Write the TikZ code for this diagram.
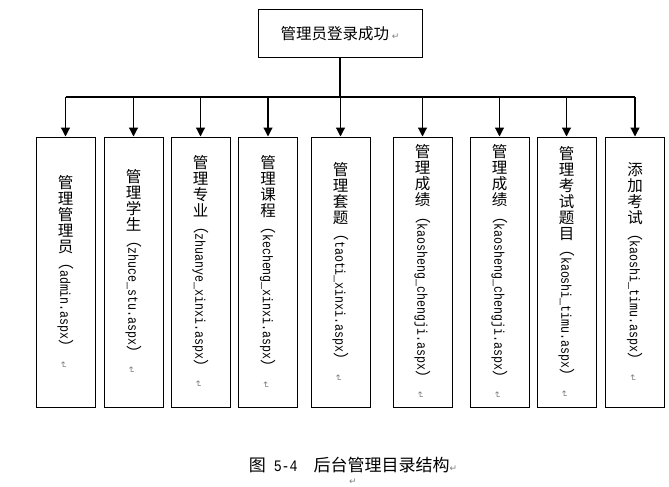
\documentclass[tikz,border=0pt]{standalone}
\usepackage{fontspec}
\usepackage{graphicx}
\usetikzlibrary{arrows.meta}
\newfontfamily\cjk{Noto Sans CJK SC}
\newfontfamily\lat[FakeStretch=0.83]{Liberation Mono}
\newfontfamily\sym{DejaVu Sans}
\newcommand\retmark{{\sym\fontsize{9}{9}\selectfont\color{gray}↵}}
\newcommand\vlab[2]{\vbox{\baselineskip=16pt\lineskiplimit=-100pt\lineskip=0pt
  \foreach \ch in {#1}{\hbox to 16pt{\hss\ch\hss}}
  \nointerlineskip\vskip 1pt
  \hbox to 16pt{\hss\rotatebox{-90}{{\cjk （}{\lat\fontsize{14}{14}\selectfont #2}{\cjk ）}\hspace{6pt}\retmark}\hss}}}
\tikzset{
  topbox/.style={draw, line width=1pt, minimum width=164pt, minimum height=48pt, inner sep=0pt,
    font=\fontsize{15.5}{16}\selectfont\cjk},
  leaf/.style={draw, line width=1pt, minimum width=59pt, minimum height=270pt, inner sep=0pt,
    font=\fontsize{15.5}{16}\selectfont\cjk},
  stemline/.style={line width=2.2pt},
  busline/.style={line width=1.2pt},
  arr/.style={line width=1.2pt, -{Triangle[length=9pt,width=9pt]}},
  captext/.style={font=\fontsize{17}{17}\selectfont\cjk}
}
\begin{document}
\begin{tikzpicture}[x=1pt,y=-1pt]
\useasboundingbox[fill=white] (0,0) rectangle (669,487);
\node[topbox] (top) at (340,34) {管理员登录成功\,\retmark};
\coordinate (bus) at (340,97);
\node[leaf] (b1) at (65.5,272) {\vlab{管,理,管,理,员}{admin.aspx}};
\node[leaf] (b2) at (133.5,272) {\vlab{管,理,学,生}{zhuce\_stu.aspx}};
\node[leaf] (b3) at (200.5,272) {\vlab{管,理,专,业}{zhuanye\_xinxi.aspx}};
\node[leaf] (b4) at (268,272) {\vlab{管,理,课,程}{kecheng\_xinxi.aspx}};
\node[leaf] (b5) at (340.5,272) {\vlab{管,理,套,题}{taoti\_xinxi.aspx}};
\node[leaf] (b6) at (422.5,272) {\vlab{管,理,成,绩}{kaosheng\_chengji.aspx}};
\node[leaf] (b7) at (499.5,272) {\vlab{管,理,成,绩}{kaosheng\_chengji.aspx}};
\node[leaf] (b8) at (566.5,272) {\vlab{管,理,考,试,题,目}{kaoshi\_timu.aspx}};
\node[leaf] (b9) at (635,272) {\vlab{添,加,考,试}{kaoshi\_timu.aspx}};
\draw[stemline] (top.south) -- (top.south |- bus);
\draw[busline] (bus -| b1.north) -- (bus -| b9.north);
\foreach \b in {b1,b2,b3,b4,b5,b6,b7,b8,b9}
  \draw[arr] (bus -| \b.north) -- (\b.north);
\node[captext] (caption) at (353,465) {图\hspace{8pt}{\lat\fontsize{16}{16}\selectfont 5-4}\hspace{16pt}后台管理目录结构\retmark};
\node (ret) at (353,482) {\retmark};
\end{tikzpicture}
\end{document}
